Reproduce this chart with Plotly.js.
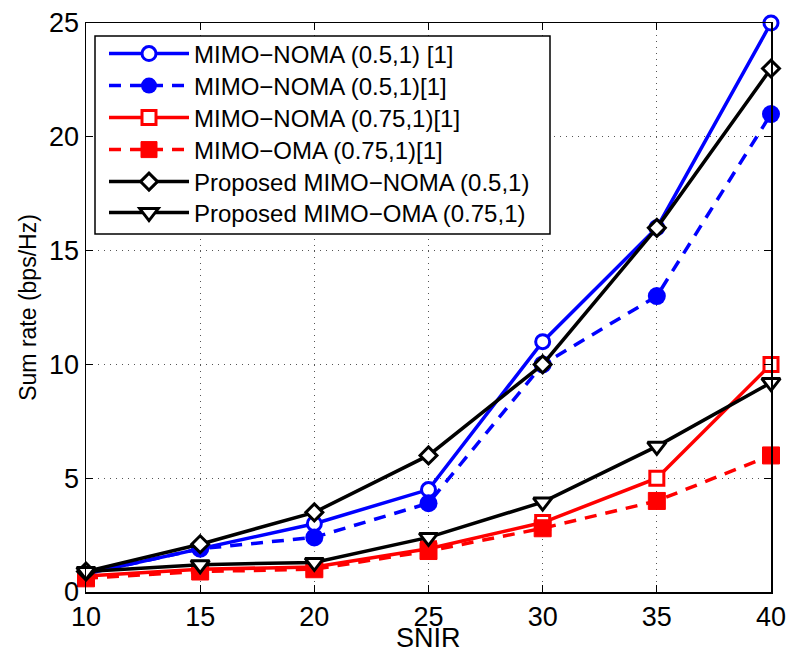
<!DOCTYPE html>
<html>
<head>
<meta charset="utf-8">
<script src="https://cdn.plot.ly/plotly-3.0.1.min.js"></script>
<style>html,body{margin:0;padding:0;background:#fff;}#chart{width:786px;height:651px;}</style>
</head>
<body>
<div id="chart"></div>
<script>
const snir = [10, 15, 20, 25, 30, 35, 40];
const names = [
  "MIMO\u2212NOMA (0.5,1) [1]",
  "MIMO\u2212NOMA (0.5,1)[1]",
  "MIMO\u2212NOMA (0.75,1)[1]",
  "MIMO\u2212OMA (0.75,1)[1]",
  "Proposed MIMO\u2212NOMA (0.5,1)",
  "Proposed MIMO\u2212OMA (0.75,1)"
];
const noma05 = [0.8, 1.9, 3.0, 4.5, 11.0, 16.0, 25.0];
const noma05b = [0.8, 1.9, 2.4, 3.9, 10.0, 13.0, 21.0];
const noma075 = [0.7, 1.0, 1.1, 1.9, 3.05, 5.0, 10.0];
const oma075 = [0.6, 0.9, 1.0, 1.8, 2.8, 4.0, 6.0];
const propNoma = [0.9, 2.1, 3.5, 6.0, 10.0, 16.0, 23.0];
const propOma = [0.9, 1.2, 1.3, 2.4, 3.95, 6.4, 9.2];
const xTicks = [10, 15, 20, 25, 30, 35, 40];
const yTicks = [0, 5, 10, 15, 20, 25];
const xTitle = "SNIR";
const yTitle = "Sum rate (bps/Hz)";

const series = [noma05, noma05b, noma075, oma075, propNoma, propOma];
const colors = ["#0000ff", "#0000ff", "#ff0000", "#ff0000", "#000000", "#000000"];
const fills = ["#ffffff", "#0000ff", "#ffffff", "#ff0000", "#ffffff", "#ffffff"];
const dashes = ["solid", "12px,9px", "solid", "12px,9px", "solid", "solid"];
const symbols = ["circle", "circle", "square", "square", "diamond", "triangle-down"];
const msizes = [14, 18, 14, 17, 13, 16];
const mlines = [3, 0, 3, 1, 3, 3];

const legendIds = ["legend", "legend2", "legend3", "legend4", "legend5", "legend6"];
const traces = series.map((y, i) => ({
  x: snir, y: y, name: names[i], type: "scatter", mode: "lines+markers",
  legend: legendIds[i],
  line: {color: colors[i], width: 3.5, dash: dashes[i]},
  marker: {symbol: symbols[i], size: msizes[i], color: fills[i],
           line: {color: colors[i], width: mlines[i]}},
  cliponaxis: false
}));

const FONT = "Liberation Sans Narrow, Arial Narrow, Liberation Sans, Arial, sans-serif";
// plot area in px: left 86, right 771, top 23, bottom 592
const L = 86, R = 771, T = 23, B = 592;
const px2x = p => (p - L) / (R - L);
const px2y = p => (B - p) / (B - T);
const rowY = [54, 86, 118, 150, 182, 213];

const layout = {
  width: 786, height: 651,
  margin: {l: L, r: 786 - R, t: T, b: 651 - B},
  paper_bgcolor: "#fff", plot_bgcolor: "#fff",
  font: {family: FONT, color: "#000", size: 27},
  showlegend: true,
  shapes: [{
    type: "rect", xref: "paper", yref: "paper", layer: "above",
    x0: px2x(95), x1: px2x(550), y0: px2y(36), y1: px2y(234),
    fillcolor: "#ffffff", line: {color: "#000", width: 1.5}
  }],
  annotations: [{
    text: xTitle, xref: "paper", yref: "paper", x: 0.5, y: 0,
    xanchor: "center", yanchor: "top", yshift: -29, showarrow: false,
    font: {family: FONT, size: 27, color: "#000"}
  }],
  xaxis: {
    range: [10, 40], tickvals: xTicks, ticktext: xTicks.map(String),
    ticks: "inside", ticklen: 7, tickwidth: 1, tickcolor: "#000",
    showline: true, linecolor: "#000", linewidth: 1.5, mirror: "ticks",
    showgrid: true, gridcolor: "#555", gridwidth: 1, griddash: "1px,5px",
    zeroline: false, ticklabeloverflow: "allow",
    tickfont: {family: FONT, size: 27, color: "#000"}
  },
  yaxis: {
    range: [0, 25], tickvals: yTicks, ticktext: yTicks.map(String),
    ticks: "inside", ticklen: 7, tickwidth: 1, tickcolor: "#000",
    showline: true, linecolor: "#000", linewidth: 1.5, mirror: "ticks",
    showgrid: true, gridcolor: "#555", gridwidth: 1, griddash: "1px,5px",
    zeroline: false, ticklabeloverflow: "allow",
    tickfont: {family: FONT, size: 27, color: "#000"},
    title: {text: yTitle, font: {family: "Liberation Sans, Arial, sans-serif", size: 23, color: "#000"}, standoff: 6}
  }
};
legendIds.forEach((id, i) => {
  layout[id] = {
    x: px2x(104), y: px2y(rowY[i]), xanchor: "left", yanchor: "middle",
    bgcolor: "rgba(0,0,0,0)", borderwidth: 0,
    font: {family: FONT, size: 24, color: "#000"},
    itemwidth: 80
  };
});
Plotly.newPlot("chart", traces, layout, {staticPlot: true, displayModeBar: false});
</script>
</body>
</html>
